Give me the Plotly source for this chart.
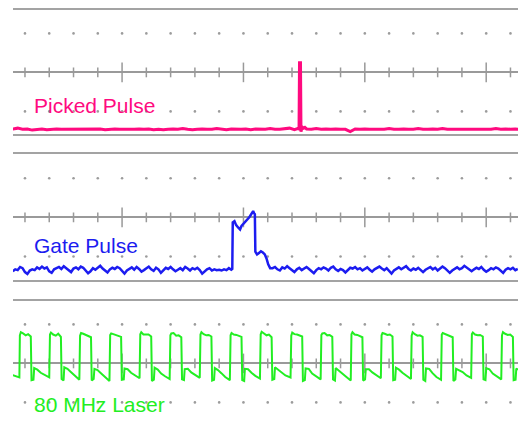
import plotly.graph_objects as go

# ---------------- data (time in ns, amplitude in screen divisions) ----------------
T_RANGE = [5.07, 213.1]
tick_times = [10, 20, 30, 40, 50, 60, 70, 80, 90, 100, 110, 120, 130, 140, 150,
              160, 170, 180, 190, 200, 210]
major_times = [50, 100, 150, 200]
dot_levels = [1, -1]

labels = ["Picked Pulse", "Gate Pulse", "80 MHz Laser"]
colors = ["#ff0a7f", "#1c1cf0", "#22ee22"]

# Picked pulse
pink_pre_t = list(range(5, 122, 2))
pink_pre_v = [-1.45, -1.43, -1.46, -1.45, -1.48, -1.46, -1.45, -1.47, -1.46, -1.45,
              -1.46, -1.46, -1.45, -1.46, -1.46, -1.45, -1.46, -1.46, -1.45, -1.47,
              -1.46, -1.45, -1.46, -1.46, -1.47, -1.46, -1.45, -1.46, -1.45, -1.47,
              -1.46, -1.47, -1.46, -1.45, -1.46, -1.44, -1.46, -1.47, -1.46, -1.45,
              -1.46, -1.46, -1.44, -1.46, -1.47, -1.45, -1.46, -1.46, -1.45, -1.47,
              -1.45, -1.46, -1.46, -1.44, -1.46, -1.46, -1.45, -1.43, -1.47]
pink_spike_t = [122.3, 122.9, 123.1, 123.5, 123.7, 124.2, 124.8, 125.3]
pink_spike_v = [-1.44, -1.45, 0.25, 0.25, -1.52, -1.40, -1.43, -1.41]
pink_post_t = list(range(126, 216, 2))
pink_post_v = [-1.45, -1.46, -1.44, -1.46, -1.45, -1.46, -1.45, -1.46, -1.46, -1.52,
               -1.45, -1.46, -1.45, -1.46, -1.46, -1.45, -1.46, -1.44, -1.46, -1.46,
               -1.45, -1.46, -1.46, -1.44, -1.46, -1.46, -1.45, -1.46, -1.44, -1.46,
               -1.46, -1.45, -1.46, -1.45, -1.46, -1.46, -1.45, -1.46, -1.46, -1.44,
               -1.46, -1.45, -1.46, -1.45, -1.46]

# Gate pulse
blue_pre_t = list(range(5, 96))
blue_pre_v = [-1.38, -1.33, -1.35, -1.27, -1.30, -1.40, -1.45, -1.36, -1.33, -1.35,
              -1.28, -1.32, -1.26, -1.31, -1.28, -1.38, -1.42, -1.33, -1.30, -1.27,
              -1.32, -1.25, -1.30, -1.36, -1.40, -1.31, -1.28, -1.33, -1.26, -1.29,
              -1.35, -1.43, -1.38, -1.30, -1.34, -1.28, -1.24, -1.31, -1.36, -1.41,
              -1.33, -1.29, -1.32, -1.27, -1.30, -1.37, -1.44, -1.36, -1.31, -1.28,
              -1.34, -1.27, -1.32, -1.39, -1.35, -1.30, -1.26, -1.33, -1.37, -1.29,
              -1.33, -1.42, -1.36, -1.29, -1.32, -1.27, -1.33, -1.38, -1.34, -1.30,
              -1.35, -1.27, -1.31, -1.36, -1.30, -1.33, -1.29, -1.35, -1.44, -1.38,
              -1.33, -1.30, -1.36, -1.33, -1.35, -1.34, -1.36, -1.33, -1.35, -1.30,
              -1.34]
blue_pulse_t = [95.4, 95.6, 96.3, 97.0, 97.8, 98.6, 99.2, 100.0, 100.8, 101.6, 102.4,
                103.0, 103.5, 104.0, 104.4, 104.7, 104.9, 105.6, 106.4, 107.2, 108.0,
                108.8, 109.5, 110.2, 111.0]
blue_pulse_v = [-1.32, -0.13, -0.10, -0.20, -0.26, -0.31, -0.22, -0.17, -0.10, -0.05, 0.00,
                0.06, 0.10, 0.16, 0.10, 0.08, -0.88, -0.95, -0.91, -0.87, -0.90,
                -0.95, -1.05, -1.20, -1.30]
blue_post_t = list(range(112, 214))
blue_post_v = [-1.30, -1.27, -1.33, -1.36, -1.28, -1.31, -1.25, -1.30, -1.34, -1.40,
               -1.33, -1.29, -1.35, -1.31, -1.27, -1.32, -1.38, -1.43, -1.35, -1.30,
               -1.33, -1.28, -1.31, -1.36, -1.29, -1.26, -1.33, -1.37, -1.32, -1.35,
               -1.41, -1.34, -1.29, -1.31, -1.27, -1.33, -1.30, -1.36, -1.32, -1.28,
               -1.34, -1.39, -1.33, -1.30, -1.26, -1.31, -1.35, -1.30, -1.37, -1.44,
               -1.36, -1.31, -1.28, -1.33, -1.29, -1.25, -1.32, -1.36, -1.31, -1.34,
               -1.29, -1.35, -1.40, -1.34, -1.30, -1.27, -1.33, -1.29, -1.36, -1.31,
               -1.26, -1.30, -1.35, -1.42, -1.36, -1.31, -1.28, -1.33, -1.30, -1.24,
               -1.29, -1.34, -1.38, -1.33, -1.29, -1.32, -1.27, -1.34, -1.39, -1.35,
               -1.30, -1.33, -1.28, -1.31, -1.37, -1.42, -1.34, -1.30, -1.33, -1.29,
               -1.35, -1.32]

# 80 MHz laser
green_t = [5.0, 6.5, 7.7,
           7.9, 8.3, 9.2, 10.3, 11.3, 12.4, 12.7, 13.5, 13.8, 15.1, 16.5, 18.1, 20.0,
           20.3, 20.7, 21.6, 22.7, 23.7, 24.8, 25.1, 25.9, 26.2, 27.5, 28.9, 30.5, 32.4,
           32.7, 33.1, 34.0, 35.1, 36.1, 37.2, 37.5, 38.3, 38.6, 39.9, 41.3, 42.9, 44.8,
           45.1, 45.5, 46.4, 47.5, 48.5, 49.6, 49.9, 50.7, 51.0, 52.3, 53.7, 55.3, 57.2,
           57.5, 57.9, 58.8, 59.9, 60.9, 62.0, 62.3, 63.1, 63.4, 64.7, 66.1, 67.7, 69.6,
           69.9, 70.3, 71.2, 72.3, 73.3, 74.4, 74.7, 75.5, 75.8, 77.1, 78.5, 80.1, 82.0,
           82.3, 82.7, 83.6, 84.7, 85.7, 86.8, 87.1, 87.9, 88.2, 89.5, 90.9, 92.5, 94.4,
           94.7, 95.1, 96.0, 97.1, 98.1, 99.2, 99.5, 100.3, 100.6, 101.9, 103.3, 104.9, 106.8,
           107.1, 107.5, 108.4, 109.5, 110.5, 111.6, 111.9, 112.7, 113.0, 114.3, 115.7, 117.3, 119.4,
           119.7, 120.1, 121.0, 122.1, 123.1, 124.2, 124.5, 125.3, 125.6, 126.9, 128.3, 129.9, 131.8,
           132.1, 132.5, 133.4, 134.5, 135.5, 136.6, 136.9, 137.7, 138.0, 139.3, 140.7, 142.3, 144.2,
           144.5, 144.9, 145.8, 146.9, 147.9, 149.0, 149.3, 150.1, 150.4, 151.7, 153.1, 154.7, 156.6,
           156.9, 157.3, 158.2, 159.3, 160.3, 161.4, 161.7, 162.5, 162.8, 164.1, 165.5, 167.1, 169.0,
           169.3, 169.7, 170.6, 171.7, 172.7, 173.8, 174.1, 174.9, 175.2, 176.5, 177.9, 179.5, 181.4,
           181.7, 182.1, 183.0, 184.1, 185.1, 186.2, 186.5, 187.3, 187.6, 188.9, 190.3, 191.9, 193.8,
           194.1, 194.5, 195.4, 196.5, 197.5, 198.6, 198.9, 199.7, 200.0, 201.3, 202.7, 204.3, 206.2,
           206.5, 206.9, 207.8, 208.9, 209.9, 211.0, 211.3, 212.1, 212.4, 213.1]
green_v = [-0.30, -0.33, -0.36,
           0.72, 0.80, 0.77, 0.72, 0.75, 0.69, -0.43, -0.42, -0.12, -0.16, -0.24, -0.30, -0.36,
           0.74, 0.79, 0.74, 0.71, 0.76, 0.68, -0.40, -0.44, -0.10, -0.14, -0.22, -0.32, -0.42,
           0.71, 0.78, 0.76, 0.73, 0.72, 0.67, -0.44, -0.40, -0.14, -0.17, -0.25, -0.34, -0.45,
           0.73, 0.77, 0.75, 0.72, 0.70, 0.68, -0.42, -0.41, -0.13, -0.15, -0.24, -0.31, -0.38,
           0.75, 0.80, 0.74, 0.73, 0.74, 0.69, -0.45, -0.42, -0.11, -0.16, -0.26, -0.33, -0.40,
           0.72, 0.77, 0.78, 0.71, 0.72, 0.67, -0.41, -0.43, -0.15, -0.14, -0.23, -0.30, -0.37,
           0.74, 0.80, 0.75, 0.72, 0.73, 0.69, -0.44, -0.42, -0.12, -0.17, -0.25, -0.35, -0.43,
           0.72, 0.78, 0.74, 0.73, 0.71, 0.68, -0.43, -0.45, -0.14, -0.15, -0.24, -0.32, -0.39,
           0.74, 0.81, 0.76, 0.72, 0.74, 0.67, -0.42, -0.40, -0.10, -0.16, -0.22, -0.31, -0.36,
           0.71, 0.79, 0.75, 0.74, 0.71, 0.69, -0.45, -0.43, -0.13, -0.14, -0.26, -0.33, -0.41,
           0.73, 0.77, 0.78, 0.72, 0.73, 0.68, -0.41, -0.44, -0.12, -0.18, -0.25, -0.34, -0.44,
           0.75, 0.80, 0.74, 0.73, 0.71, 0.67, -0.44, -0.41, -0.15, -0.15, -0.23, -0.30, -0.38,
           0.72, 0.78, 0.76, 0.73, 0.74, 0.69, -0.43, -0.42, -0.11, -0.16, -0.24, -0.32, -0.40,
           0.71, 0.80, 0.75, 0.71, 0.72, 0.68, -0.42, -0.45, -0.13, -0.14, -0.25, -0.35, -0.42,
           0.74, 0.78, 0.76, 0.73, 0.71, 0.67, -0.45, -0.41, -0.14, -0.17, -0.22, -0.31, -0.37,
           0.75, 0.79, 0.74, 0.72, 0.73, 0.69, -0.41, -0.43, -0.12, -0.15, -0.26, -0.33, -0.41,
           0.72, 0.80, 0.76, 0.73, 0.74, 0.68, -0.43, -0.42, -0.13, -0.16]

label_pos = [(12.9, -0.86), (12.9, -0.72), (12.9, -1.05)]

# ---------------- figure ----------------
W, H = 529, 422
OFF = 8  # page body margin shifts the plot by 8 px right and down
GRID = "#a3a3a3"
x_dom = [(13 - OFF) / W, (518 - OFF) / W]
y_doms = [[(H - (134 - OFF)) / H, (H - (10 - OFF)) / H],
          [(H - (279.5 - OFF)) / H, (H - (154 - OFF)) / H],
          [OFF / H, (H - (301 - OFF)) / H]]
y_ranges = [[-1.58, 1.60], [-1.59, 1.62], [1.6 - 121 / 39, 1.6]]

traces_data = [
    (pink_pre_t + pink_spike_t + pink_post_t, pink_pre_v + pink_spike_v + pink_post_v, 3.0),
    (blue_pre_t + blue_pulse_t + blue_post_t, blue_pre_v + blue_pulse_v + blue_post_v, 2.5),
    (green_t, green_v, 2.0),
]

fig = go.Figure()
minor_times = [t for t in tick_times if t not in major_times]

for i in range(3):
    xa = "x" if i == 0 else f"x{i + 1}"
    ya = "y" if i == 0 else f"y{i + 1}"
    for lv in dot_levels:
        fig.add_trace(go.Scatter(x=tick_times, y=[lv] * len(tick_times), mode="markers",
                                 marker=dict(size=2.6, color="#9c9c9c"),
                                 xaxis=xa, yaxis=ya, hoverinfo="skip", showlegend=False))
    fig.add_trace(go.Scatter(x=minor_times, y=[0] * len(minor_times), mode="markers",
                             marker=dict(symbol="line-ns", size=7,
                                         line=dict(width=1.5, color="#999999")),
                             xaxis=xa, yaxis=ya, hoverinfo="skip", showlegend=False))
    fig.add_trace(go.Scatter(x=major_times, y=[0] * len(major_times), mode="markers",
                             marker=dict(symbol="line-ns", size=14,
                                         line=dict(width=1.5, color="#999999")),
                             xaxis=xa, yaxis=ya, hoverinfo="skip", showlegend=False))
    tx, tv, lw = traces_data[i]
    fig.add_trace(go.Scatter(x=tx, y=tv, mode="lines",
                             line=dict(color=colors[i], width=lw),
                             xaxis=xa, yaxis=ya, hoverinfo="skip", showlegend=False))
    fig.add_annotation(x=label_pos[i][0], y=label_pos[i][1], xref=xa, yref=ya,
                       text=labels[i], showarrow=False, xanchor="left", yanchor="middle",
                       font=dict(family="Liberation Sans, Arial, sans-serif", size=21,
                                 color=colors[i]))

layout = dict(width=W, height=H, margin=dict(l=0, r=0, t=0, b=0),
              paper_bgcolor="white", plot_bgcolor="white", showlegend=False)
for i in range(3):
    xk = "xaxis" if i == 0 else f"xaxis{i + 1}"
    yk = "yaxis" if i == 0 else f"yaxis{i + 1}"
    ya = "y" if i == 0 else f"y{i + 1}"
    xa = "x" if i == 0 else f"x{i + 1}"
    layout[xk] = dict(domain=x_dom, range=T_RANGE, anchor=ya, showgrid=False,
                      zeroline=False, showticklabels=False, ticks="",
                      showline=True, linecolor=GRID, linewidth=2,
                      mirror=(i < 2), side="top" if i == 2 else "bottom",
                      fixedrange=True)
    layout[yk] = dict(domain=y_doms[i], range=y_ranges[i], anchor=xa, showgrid=False,
                      zeroline=True, zerolinecolor="#9a9a9a", zerolinewidth=1.5,
                      showticklabels=False, ticks="", showline=False, fixedrange=True)
fig.update_layout(**layout)

fig.write_html("out.html")
